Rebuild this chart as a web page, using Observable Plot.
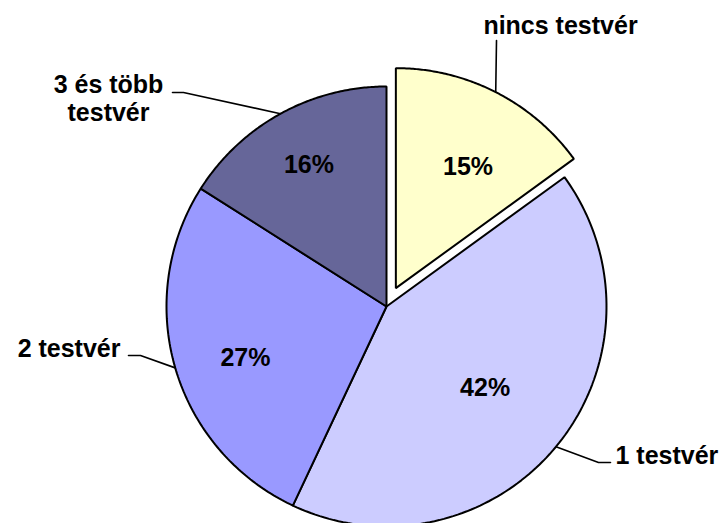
<!DOCTYPE html>
<html>
<head>
<meta charset="utf-8">
<script src="https://cdn.jsdelivr.net/npm/d3@7"></script>
<script src="https://cdn.jsdelivr.net/npm/@observablehq/plot@0.6"></script>
<style>
  html, body { margin: 0; padding: 0; background: #ffffff; }
  #chart svg { display: block; }
</style>
</head>
<body>
<div id="chart"></div>
<script>
// ---- data ----
const categories = ["nincs testvér", "1 testvér", "2 testvér", "3 és több\ntestvér"];
const values = [15, 42, 27, 16];
const percentLabels = ["15%", "42%", "27%", "16%"];
const colors = ["#FFFFCC", "#CCCCFF", "#9999FF", "#666699"];

// ---- layout ----
const W = 727, H = 523;
const cx = 386, cy = 306, R = 220;
const explode = [20.6, 0, 0, 0];
const pctRadius = [141, 128, 150, 161];
const pctAngleShift = [3.8, 0, -3.7, 0];
// category label layout: text anchor and leader end / elbow
const catLayout = [
  {tx: 560, ty: 25, anchor: "middle", ex: 496, ey: 40, bx: 496, by: 40},
  {tx: 615, ty: 455, anchor: "start", ex: 610, ey: 462, bx: 598, by: 462},
  {tx: 120, ty: 348, anchor: "end", ex: 128, ey: 355, bx: 140, by: 355},
  {tx: 108, ty: 98, anchor: "middle", ex: 172, ey: 92, bx: 183, by: 92}
];

const rows = categories.map((c, i) => ({name: c, value: values[i], pct: percentLabels[i], color: colors[i]}));
const arcs = d3.pie().sort(null).value(d => d.value)(rows);

const pt = (ox, oy, r, a) => [ox + r * Math.sin(a), oy - r * Math.cos(a)];

const sliceMarks = arcs.map((a, i) => {
  const mid = (a.startAngle + a.endAngle) / 2;
  const [ox, oy] = pt(cx, cy, explode[i], mid);
  const pts = [{x: ox, y: oy}];
  const N = 120;
  for (let k = 0; k <= N; k++) {
    const ang = a.startAngle + (a.endAngle - a.startAngle) * k / N;
    const [x, y] = pt(ox, oy, R, ang);
    pts.push({x, y});
  }
  return Plot.line(pts, {x: "x", y: "y", fill: a.data.color, stroke: "black", strokeWidth: 2, curve: "linear-closed", strokeLinejoin: "miter"});
});

const pctData = arcs.map((a, i) => {
  const mid = (a.startAngle + a.endAngle) / 2;
  const [ox, oy] = pt(cx, cy, explode[i], mid);
  const [x, y] = pt(ox, oy, pctRadius[i], mid + pctAngleShift[i] * Math.PI / 180);
  return {x, y, label: a.data.pct};
});

const leaderPts = [];
arcs.forEach((a, i) => {
  const mid = (a.startAngle + a.endAngle) / 2;
  const [ox, oy] = pt(cx, cy, explode[i], mid);
  const [sx, sy] = pt(ox, oy, R, mid);
  const L = catLayout[i];
  leaderPts.push({k: i, x: sx, y: sy}, {k: i, x: L.bx, y: L.by}, {k: i, x: L.ex, y: L.ey});
});

const catData = arcs.map((a, i) => ({x: catLayout[i].tx, y: catLayout[i].ty, label: a.data.name, anchor: catLayout[i].anchor}));

const font = "'Liberation Sans', Arial, Helvetica, sans-serif";

const chart = Plot.plot({
  width: W,
  height: H,
  margin: 0,
  style: {background: "#ffffff", fontFamily: font},
  x: {domain: [0, W], range: [0, W], axis: null},
  y: {domain: [0, H], range: [0, H], axis: null},
  marks: [
    ...sliceMarks,
    Plot.line(leaderPts, {x: "x", y: "y", z: "k", stroke: "black", strokeWidth: 1.6}),
    Plot.text(pctData, {x: "x", y: "y", text: "label", fontSize: 25, fontWeight: "bold", fill: "black", fontFamily: font}),
    ...["start", "middle", "end"].map(an =>
      Plot.text(catData.filter(d => d.anchor === an), {x: "x", y: "y", text: "label", textAnchor: an, fontSize: 25, fontWeight: "bold", lineHeight: 1.12, fill: "black", fontFamily: font})
    )
  ]
});
document.getElementById("chart").appendChild(chart);
</script>
</body>
</html>
